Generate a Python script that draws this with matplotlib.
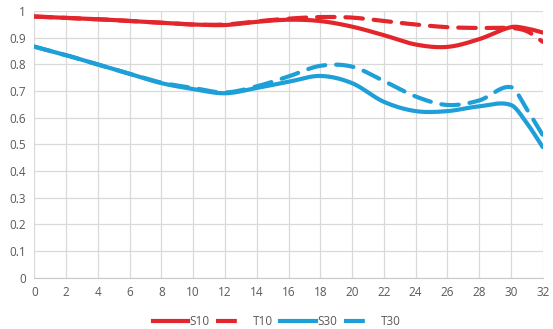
import numpy as np
import matplotlib
matplotlib.use("Agg")
import matplotlib.pyplot as plt
from matplotlib.lines import Line2D

# Sample positions and series values
x = [0, 2, 4, 6, 8, 10, 12, 14, 16, 18, 20, 22, 24, 26, 28, 30, 31, 32]
s10 = [0.980, 0.975, 0.970, 0.963, 0.956, 0.950, 0.948, 0.960, 0.968, 0.963,
       0.942, 0.910, 0.875, 0.866, 0.895, 0.940, 0.935, 0.920]
t10 = [0.980, 0.975, 0.970, 0.963, 0.956, 0.950, 0.950, 0.962, 0.972, 0.978,
       0.976, 0.963, 0.950, 0.940, 0.937, 0.937, 0.925, 0.885]
s30 = [0.867, 0.835, 0.800, 0.765, 0.730, 0.708, 0.692, 0.712, 0.735, 0.757,
       0.730, 0.660, 0.625, 0.625, 0.643, 0.648, 0.580, 0.490]
t30 = [0.867, 0.835, 0.800, 0.765, 0.732, 0.712, 0.695, 0.718, 0.755, 0.795,
       0.792, 0.738, 0.680, 0.648, 0.665, 0.715, 0.632, 0.535]

series_names = ["S10", "T10", "S30", "T30"]
x_ticks = list(range(0, 33, 2))
y_ticks = [0, 0.1, 0.2, 0.3, 0.4, 0.5, 0.6, 0.7, 0.8, 0.9, 1]
y_tick_labels = ["0", "0.1", "0.2", "0.3", "0.4", "0.5", "0.6", "0.7", "0.8", "0.9", "1"]

RED = "#E3262B"
BLUE = "#1E9FD8"


def smooth(xs, ys, n=30):
    """Cubic Hermite smoothing through the given points (smoothed line style)."""
    xs = np.asarray(xs, float)
    ys = np.asarray(ys, float)
    m = np.empty_like(ys)
    m[1:-1] = (ys[2:] - ys[:-2]) / (xs[2:] - xs[:-2])
    m[0] = (ys[1] - ys[0]) / (xs[1] - xs[0])
    m[-1] = (ys[-1] - ys[-2]) / (xs[-1] - xs[-2])
    ox, oy = [], []
    t = np.linspace(0, 1, n, endpoint=False)
    for i in range(len(xs) - 1):
        h = xs[i + 1] - xs[i]
        h00 = 2 * t ** 3 - 3 * t ** 2 + 1
        h10 = t ** 3 - 2 * t ** 2 + t
        h01 = -2 * t ** 3 + 3 * t ** 2
        h11 = t ** 3 - t ** 2
        ox.extend(xs[i] + t * h)
        oy.extend(h00 * ys[i] + h10 * h * m[i] + h01 * ys[i + 1] + h11 * h * m[i + 1])
    ox.append(xs[-1])
    oy.append(ys[-1])
    return np.array(ox), np.array(oy)


plt.rcParams["font.family"] = ["Open Sans", "DejaVu Sans"]

fig = plt.figure(figsize=(5.53, 3.29), dpi=100)
ax = fig.add_axes([0.062, 0.156, 0.9194, 0.810])

lw = 3.0
dash = (4.2, 2.6)
styles = [
    (s10, RED, "-"),
    (t10, RED, "--"),
    (s30, BLUE, "-"),
    (t30, BLUE, "--"),
]
for ys, col, ls in styles:
    sx, sy = smooth(x, ys)
    ln, = ax.plot(sx, sy, color=col, lw=lw, solid_capstyle="round",
                  dash_capstyle="round", zorder=3)
    if ls == "--":
        ln.set_dashes(dash)

ax.set_xlim(0, 32)
ax.set_ylim(0, 1)
ax.set_xticks(x_ticks)
ax.set_yticks(y_ticks)
ax.set_yticklabels(y_tick_labels)
ax.grid(True, color="#D9D9D9", lw=0.9)
ax.set_axisbelow(True)
for sp in ax.spines.values():
    sp.set_visible(False)
ax.spines["bottom"].set_visible(True)
ax.spines["bottom"].set_color("#C8C8C8")
ax.tick_params(length=0, labelsize=8.5, colors="#595959", pad=6)

handles = []
for (ys, col, ls), name in zip(styles, series_names):
    h = Line2D([], [], color=col, lw=lw)
    if ls == "--":
        h.set_dashes((5.0, 5.5))
    handles.append(h)
fig.legend(handles, series_names, loc="center", bbox_to_anchor=(0.5, 0.022),
           ncol=4, frameon=False, fontsize=8.5, handlelength=3.0,
           columnspacing=0.6, handletextpad=0.1, labelcolor="#595959")

fig.savefig("out.png", dpi=100)
